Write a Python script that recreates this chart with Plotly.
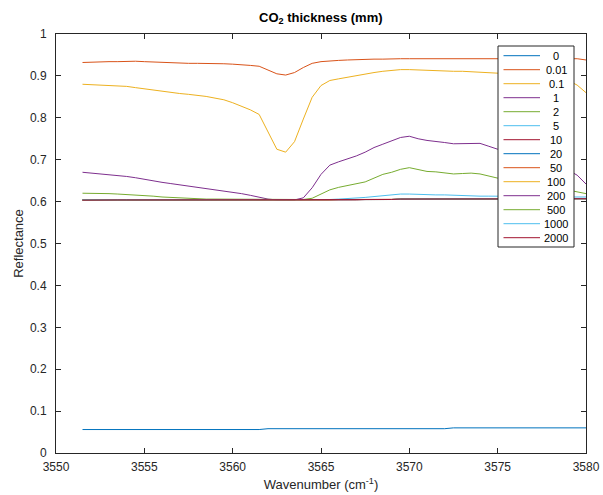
import plotly.graph_objects as go

# ---------------- data ----------------
wavenumber = [
    3551.5, 3552.0, 3552.5, 3553.0, 3553.5, 3554.0, 3554.5, 3555.0, 3555.5, 3556.0,
    3556.5, 3557.0, 3557.5, 3558.0, 3558.5, 3559.0, 3559.5, 3560.0, 3560.5, 3561.0,
    3561.5, 3562.0, 3562.5, 3563.0, 3563.5, 3564.0, 3564.5, 3565.0, 3565.5, 3566.0,
    3566.5, 3567.0, 3567.5, 3568.0, 3568.5, 3569.0, 3569.5, 3570.0, 3570.5, 3571.0,
    3571.5, 3572.0, 3572.5, 3573.0, 3573.5, 3574.0, 3574.5, 3575.0, 3575.5, 3576.0,
    3576.5, 3577.0, 3577.5, 3578.0, 3578.5, 3579.0, 3579.5, 3580.0,
]

thickness_labels = ["0", "0.01", "0.1", "1", "2", "5", "10", "20", "50", "100",
                    "200", "500", "1000", "2000"]

r_0 = [
    .056, .056, .056, .056, .056, .056, .056, .056, .056, .056,
    .056, .056, .056, .056, .056, .056, .056, .056, .056, .056,
    .056, .058, .058, .058, .058, .058, .058, .058, .058, .058,
    .058, .058, .058, .058, .058, .058, .058, .058, .058, .058,
    .058, .058, .060, .060, .060, .060, .060, .060, .060, .060,
    .060, .060, .060, .060, .060, .060, .060, .060,
]
r_0_01 = [
    .932, .933, .933, .934, .934, .935, .935, .934, .933, .932,
    .931, .930, .930, .930, .930, .930, .929, .928, .927, .925,
    .923, .914, .905, .902, .908, .920, .930, .934, .936, .937,
    .938, .939, .939, .940, .940, .941, .941, .941, .941, .941,
    .942, .942, .942, .942, .942, .942, .942, .942, .942, .942,
    .942, .942, .942, .942, .942, .942, .941, .938,
]
r_0_1 = [
    .880, .879, .879, .878, .877, .875, .872, .869, .866, .863,
    .860, .858, .856, .854, .851, .847, .843, .836, .828, .819,
    .808, .765, .725, .718, .743, .797, .849, .877, .889, .893,
    .897, .900, .904, .908, .911, .913, .915, .915, .914, .913,
    .912, .911, .911, .911, .910, .909, .908, .906, .905, .904,
    .903, .902, .900, .898, .894, .889, .878, .860,
]
r_1 = [
    .670, .668, .667, .665, .663, .660, .657, .653, .649, .646,
    .643, .640, .637, .635, .632, .629, .626, .623, .619, .615,
    .611, .606, .604, .604, .604, .609, .633, .665, .687, .695,
    .702, .709, .718, .729, .737, .745, .753, .756, .750, .746,
    .744, .741, .738, .738, .739, .739, .732, .725, .721, .717,
    .713, .709, .703, .695, .685, .675, .663, .642,
]
r_2 = [
    .620, .620, .619, .619, .618, .617, .616, .615, .613, .611,
    .610, .608, .607, .607, .606, .606, .606, .606, .606, .606,
    .606, .605, .605, .605, .605, .605, .608, .619, .628, .634,
    .638, .642, .647, .656, .665, .670, .677, .681, .676, .672,
    .671, .668, .666, .667, .668, .666, .661, .656, .653, .650,
    .647, .644, .640, .636, .632, .627, .623, .619,
]
r_5 = [
    .604, .604, .604, .604, .604, .604, .604, .604, .604, .604,
    .604, .604, .604, .604, .604, .604, .604, .604, .604, .604,
    .604, .604, .604, .604, .604, .604, .604, .605, .605, .606,
    .607, .608, .610, .612, .614, .616, .618, .618, .617, .617,
    .616, .616, .615, .615, .614, .613, .613, .613, .613, .612,
    .612, .612, .612, .612, .612, .611, .611, .611,
]
r_10 = [
    .603, .603, .603, .603, .603, .603, .603, .603, .603, .603,
    .6025, .6025, .6025, .6025, .603, .603, .603, .603, .603, .6025,
    .6025, .603, .603, .603, .603, .603, .603, .604, .604, .604,
    .604, .604, .605, .605, .605, .605, .605, .605, .605, .605,
    .606, .606, .606, .606, .606, .606, .606, .606, .606, .606,
    .606, .606, .607, .607, .607, .607, .607, .607,
]
r_20 = [
    .604, .604, .604, .604, .604, .604, .604, .604, .604, .604,
    .604, .604, .604, .604, .604, .604, .604, .604, .604, .604,
    .604, .604, .604, .604, .604, .604, .604, .604, .604, .605,
    .605, .605, .605, .605, .605, .605, .606, .606, .606, .606,
    .606, .606, .606, .606, .606, .606, .606, .607, .607, .607,
    .607, .607, .607, .607, .607, .607, .607, .607,
]
r_50 = [
    .6035, .6035, .604, .604, .604, .604, .604, .604, .604, .6035,
    .603, .6025, .6025, .603, .6035, .604, .604, .604, .604, .604,
    .6035, .604, .604, .604, .604, .604, .604, .604, .604, .605,
    .605, .605, .605, .605, .605, .605, .606, .606, .606, .606,
    .606, .606, .606, .606, .606, .606, .606, .607, .607, .607,
    .607, .607, .607, .607, .607, .607, .607, .607,
]
r_100 = [
    .604, .604, .604, .604, .604, .604, .604, .604, .604, .604,
    .604, .604, .604, .604, .604, .604, .604, .604, .604, .604,
    .604, .604, .604, .604, .604, .604, .604, .604, .604, .605,
    .605, .605, .605, .605, .605, .605, .606, .606, .606, .606,
    .606, .606, .606, .606, .606, .606, .606, .607, .607, .607,
    .607, .607, .607, .607, .607, .607, .607, .607,
]
r_200 = [
    .604, .604, .604, .604, .604, .604, .604, .604, .604, .604,
    .604, .604, .604, .604, .604, .604, .604, .604, .604, .604,
    .604, .604, .604, .604, .604, .604, .604, .604, .604, .605,
    .605, .605, .605, .605, .605, .605, .606, .606, .606, .606,
    .606, .606, .606, .606, .606, .606, .606, .607, .607, .607,
    .607, .607, .607, .607, .607, .607, .607, .607,
]
r_500 = [
    .604, .604, .604, .604, .604, .604, .604, .604, .604, .604,
    .604, .604, .604, .604, .604, .604, .604, .604, .604, .604,
    .604, .604, .604, .604, .604, .604, .604, .604, .604, .605,
    .605, .605, .605, .605, .605, .605, .606, .606, .606, .606,
    .606, .606, .606, .606, .606, .606, .606, .607, .607, .607,
    .607, .607, .607, .607, .607, .607, .607, .607,
]
r_1000 = [
    .604, .604, .604, .604, .604, .604, .604, .604, .604, .604,
    .604, .604, .604, .604, .604, .604, .604, .604, .604, .604,
    .604, .604, .604, .604, .604, .604, .604, .604, .604, .605,
    .605, .605, .605, .605, .605, .605, .606, .606, .606, .606,
    .606, .606, .606, .606, .606, .606, .606, .607, .607, .607,
    .607, .607, .607, .607, .607, .607, .607, .607,
]
r_2000 = [
    .6035, .604, .604, .604, .604, .604, .604, .604, .604, .604,
    .604, .604, .604, .604, .604, .604, .604, .604, .604, .604,
    .604, .604, .604, .604, .604, .604, .604, .604, .604, .605,
    .605, .605, .605, .605, .605, .605, .606, .606, .606, .606,
    .606, .606, .606, .606, .606, .606, .606, .607, .607, .607,
    .607, .607, .607, .607, .607, .607, .607, .607,
]

x_ticks = [3550, 3555, 3560, 3565, 3570, 3575, 3580]
y_ticks = [0, 0.1, 0.2, 0.3, 0.4, 0.5, 0.6, 0.7, 0.8, 0.9, 1]

series = [r_0, r_0_01, r_0_1, r_1, r_2, r_5, r_10, r_20, r_50, r_100,
          r_200, r_500, r_1000, r_2000]

# ---------------- style ----------------
colors = ["#0072BD", "#D95319", "#EDB120", "#7E2F8E", "#77AC30", "#4DBEEE", "#A2142F"]
FONT = "Liberation Sans, Arial, Helvetica, sans-serif"
AX = "#262626"

W, H = 603, 495
ML, MR, MT, MB = 56, 17, 34, 42
PW, PH = W - ML - MR, H - MT - MB


def px_to_paper_x(px):
    return (px - ML) / PW


def px_to_paper_y(py):
    return (H - MB - py) / PH


fig = go.Figure()
for i, (name, vals) in enumerate(zip(thickness_labels, series)):
    fig.add_trace(go.Scatter(
        x=wavenumber, y=vals, mode="lines", name=name,
        line=dict(color=colors[i % len(colors)], width=1),
        showlegend=False, hoverinfo="skip",
    ))

# ---------------- custom MATLAB-style legend ----------------
shapes = []
annotations = []
LX0, LX1, LY0, LY1 = 498, 574, 46, 247
shapes.append(dict(type="rect", xref="paper", yref="paper", layer="above",
                   x0=px_to_paper_x(LX0), x1=px_to_paper_x(LX1),
                   y0=px_to_paper_y(LY1), y1=px_to_paper_y(LY0),
                   line=dict(color=AX, width=1), fillcolor="white"))
for i, name in enumerate(thickness_labels):
    cy = 55.7 + 14 * i
    shapes.append(dict(type="line", xref="paper", yref="paper", layer="above",
                       x0=px_to_paper_x(503.5), x1=px_to_paper_x(540),
                       y0=px_to_paper_y(cy), y1=px_to_paper_y(cy),
                       line=dict(color=colors[i % len(colors)], width=1)))
    annotations.append(dict(xref="paper", yref="paper",
                            x=px_to_paper_x(556), y=px_to_paper_y(cy),
                            text=name, showarrow=False, xanchor="center", yanchor="middle",
                            font=dict(family=FONT, size=11, color="#000000")))

fig.update_layout(
    width=W, height=H,
    margin=dict(l=ML, r=MR, t=MT, b=MB, pad=0),
    paper_bgcolor="white", plot_bgcolor="white",
    font=dict(family=FONT, size=12, color=AX),
    title=dict(text="<b>CO<sub>2</sub> thickness (mm)</b>", x=px_to_paper_x(320.8),
               xref="paper", xanchor="center", y=1 - 17 / H, yref="container",
               yanchor="middle", font=dict(family=FONT, size=13, color="#000000")),
    showlegend=False,
    shapes=shapes,
    annotations=annotations,
)
fig.update_xaxes(
    range=[3550, 3580], tickvals=x_ticks, ticks="inside", ticklen=5, tickwidth=1,
    tickcolor=AX, showline=True, linecolor=AX, linewidth=1, mirror="allticks",
    showgrid=False, zeroline=False, tickfont=dict(size=12, color=AX),
    ticklabelstandoff=3,
    title=dict(text="Wavenumber (cm<sup>-1</sup>)", standoff=6,
               font=dict(size=13, color=AX)),
    automargin=False,
)
fig.update_yaxes(
    range=[0, 1], tickvals=y_ticks, ticks="inside", ticklen=5, tickwidth=1,
    tickcolor=AX, showline=True, linecolor=AX, linewidth=1, mirror="allticks",
    showgrid=False, zeroline=False, tickfont=dict(size=12, color=AX),
    ticklabelstandoff=6,
    title=dict(text="Reflectance", standoff=3, font=dict(size=13, color=AX)),
    automargin=False,
)

fig.write_html(
    "out.html",
    config={"displayModeBar": False, "staticPlot": True},
    post_script="document.body.style.margin='0px';document.body.style.overflow='hidden';",
)
